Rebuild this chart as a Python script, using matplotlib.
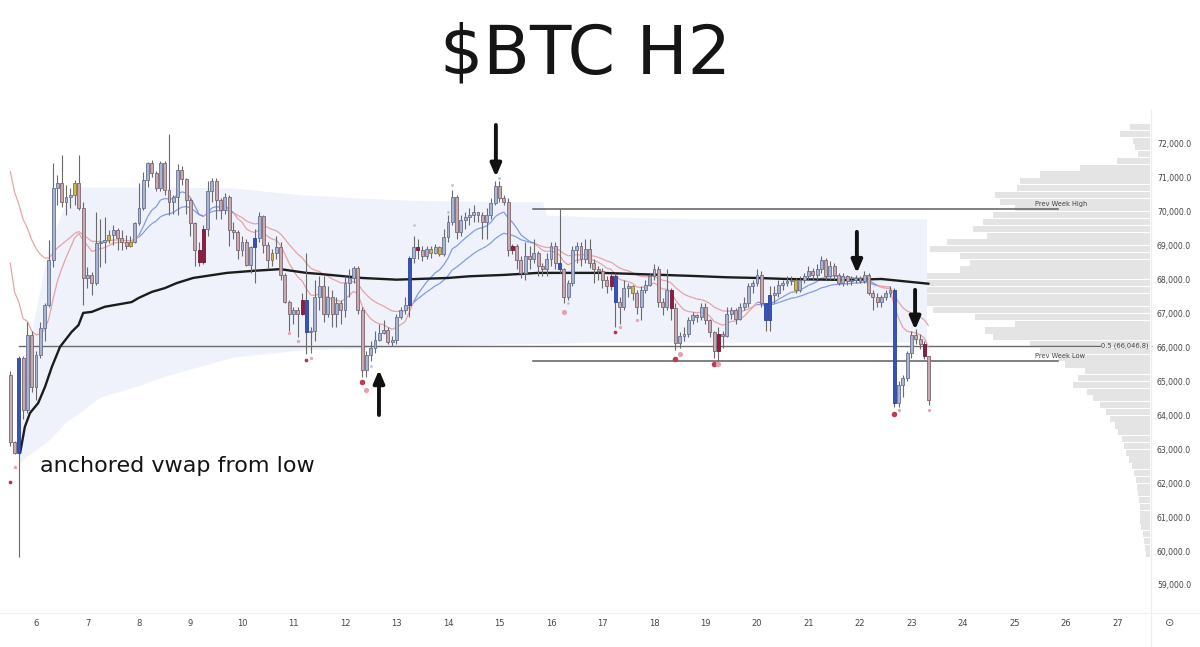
import numpy as np
import matplotlib
matplotlib.use("Agg")
import matplotlib.pyplot as plt
from matplotlib.lines import Line2D
from matplotlib.collections import LineCollection
from matplotlib.ticker import FuncFormatter

# ---- data (prices in thousands of USD) ----
# 2h candles, first one on day 5 at 12:00
first_day = 5.5
bars_per_day = 12
first_open = 65.2

closes = [
    63.2, 62.9, 65.68, 64.16, 66.37, 64.85, 65.78, 66.57, 67.25, 68.58,
    70.69, 70.85, 70.3, 70.45, 70.5, 70.86, 70.1, 68.04, 68.14, 67.89,
    69.07, 69.12, 69.17, 69.32, 69.47, 69.22, 69.12, 68.98, 69.1, 69.66,
    70.1, 70.94, 71.43, 71.13, 70.7, 71.43, 70.64, 70.3, 70.45, 71.23,
    70.98, 70.35, 69.66, 68.87, 68.53, 69.5, 70.6, 70.9, 70.35, 70.05,
    70.45, 69.47, 69.4, 68.87, 69.12, 68.43, 68.97, 69.24, 69.88, 69.02,
    68.58, 68.78, 68.97, 68.14, 67.35, 67.0, 67.1, 67.0, 67.4, 66.45,
    66.5, 67.5, 67.8, 67.0, 67.5, 67.0, 67.3, 67.1, 67.9, 68.05,
    68.35, 67.1, 65.34, 65.78, 65.98, 66.22, 66.42, 66.52, 66.17, 66.22,
    66.91, 67.11, 67.25, 68.63, 68.97, 68.87, 68.7, 68.9, 68.8, 68.95,
    68.75, 69.27, 69.71, 70.45, 69.41, 69.76, 69.86, 69.9, 70.0, 69.9,
    69.7, 69.9, 70.25, 70.76, 70.4, 70.3, 68.87, 69.0, 68.58, 68.2,
    68.7, 68.6, 68.8, 68.4, 68.3, 68.6, 69.0, 68.5, 68.3, 67.5,
    67.89, 68.87, 69.0, 68.6, 68.9, 68.5, 68.3, 68.25, 68.0, 67.8,
    68.1, 67.35, 67.2, 67.75, 67.8, 67.6, 67.2, 67.7, 67.85, 68.1,
    68.3, 67.35, 67.2, 67.7, 67.15, 66.12, 66.35, 66.4, 66.8, 66.95,
    66.9, 67.2, 66.8, 66.45, 65.9, 66.4, 66.35, 67.0, 67.1, 66.85,
    67.2, 67.3, 67.8, 67.9, 68.15, 67.3, 66.8, 67.55, 67.6, 67.85,
    67.9, 67.95, 68.0, 67.7, 68.0, 68.1, 68.25, 68.15, 68.3, 68.58,
    68.1, 68.4, 68.15, 67.9, 68.1, 67.95, 68.0, 68.05, 67.95, 68.15,
    67.6, 67.5, 67.35, 67.5, 67.6, 67.7, 64.36, 64.9, 65.1, 65.83,
    66.37, 66.25, 66.1, 65.75, 64.45,
]
highs = [
    65.3, 63.25, 65.75, 65.75, 66.76, 66.5, 65.9, 66.76, 67.3, 69.17,
    71.43, 71.1, 71.68, 70.8, 70.7, 70.94, 71.68, 70.3, 68.38, 68.24,
    70.0, 69.8, 69.86, 69.47, 69.61, 69.51, 69.47, 69.32, 69.3, 69.71,
    70.84, 71.18, 71.48, 71.53, 71.2, 71.5, 71.5, 72.3, 70.5, 71.4,
    71.35, 71.0, 70.4, 69.7, 69.1, 69.6, 70.9, 71.0, 71.0, 70.4,
    70.55, 70.5, 69.7, 69.45, 69.3, 69.2, 69.0, 69.5, 70.0, 69.9,
    69.1, 68.9, 69.3, 69.1, 68.2, 67.4, 67.2, 67.2, 67.6, 68.8,
    66.6, 68.0, 68.1, 68.1, 67.8, 67.7, 67.5, 67.4, 68.1, 68.3,
    68.4, 68.4, 67.2, 65.9, 66.2, 66.5, 66.7, 66.8, 66.6, 66.35,
    67.0, 67.2, 67.5, 68.7, 69.3, 69.2, 69.0, 69.0, 69.0, 69.05,
    69.0, 69.5, 69.9, 70.65, 70.5, 69.9, 70.0, 70.1, 70.2, 70.0,
    70.0, 70.1, 70.4, 70.9, 70.9, 70.5, 70.4, 69.05, 69.05, 68.7,
    69.1, 69.0, 69.2, 68.85, 68.5, 68.8, 69.1, 69.1, 70.08, 68.35,
    68.0, 69.0, 69.1, 69.1, 69.2, 69.2, 68.6, 68.4, 68.35, 68.1,
    68.2, 68.2, 67.5, 68.0, 67.9, 67.85, 67.7, 67.8, 68.0, 68.2,
    68.45, 68.4, 67.45, 68.3, 67.75, 67.3, 66.45, 66.6, 66.9, 67.05,
    67.0, 67.3, 67.3, 66.85, 66.5, 66.6, 66.5, 67.2, 67.2, 67.15,
    67.3, 67.5, 67.9, 68.0, 68.3, 68.25, 67.3, 67.8, 67.8, 68.0,
    68.0, 68.1, 68.1, 68.05, 68.1, 68.2, 68.4, 68.35, 68.45, 68.7,
    68.65, 68.55, 68.5, 68.2, 68.2, 68.15, 68.1, 68.15, 68.1, 68.25,
    68.2, 67.7, 67.6, 67.55, 67.7, 67.8, 67.75, 65.0, 65.2, 65.9,
    66.5, 66.55, 66.4, 66.2, 65.75,
]
lows = [
    63.1, 62.85, 59.83, 63.9, 64.06, 64.7, 64.45, 65.68, 66.2, 67.2,
    68.38, 70.2, 70.15, 69.9, 70.1, 70.2, 70.05, 67.25, 67.75, 67.55,
    67.84, 68.38, 68.48, 69.07, 69.02, 68.87, 68.87, 68.9, 68.95, 69.07,
    69.6, 70.05, 70.74, 71.04, 70.6, 70.6, 70.5, 69.9, 69.95, 69.9,
    70.8, 69.95, 69.3, 68.4, 68.4, 68.45, 69.3, 70.3, 69.8, 69.8,
    69.95, 69.0, 69.2, 68.6, 68.7, 68.4, 68.2, 67.9, 69.1, 68.8,
    68.3, 68.4, 68.6, 68.0, 67.3, 66.5, 66.7, 66.3, 66.95, 65.8,
    65.85, 66.2, 67.1, 66.75, 66.9, 66.6, 66.6, 66.7, 66.9, 67.5,
    67.9, 67.0, 65.14, 65.14, 65.6, 65.85, 66.2, 66.4, 66.1, 66.03,
    66.1, 66.85, 67.0, 66.9, 68.5, 68.6, 68.55, 68.6, 68.65, 68.75,
    68.7, 68.7, 69.1, 69.6, 69.2, 69.3, 69.5, 69.6, 69.7, 69.7,
    69.2, 69.2, 69.8, 70.2, 70.3, 70.2, 68.7, 68.75, 68.3, 68.05,
    68.0, 68.3, 68.5, 68.1, 68.1, 68.1, 68.4, 68.3, 68.2, 67.3,
    67.4, 67.8, 68.5, 68.4, 68.5, 68.35, 67.9, 68.0, 67.75, 67.6,
    67.7, 66.6, 66.7, 67.1, 67.5, 67.4, 67.0, 66.8, 67.6, 67.8,
    68.0, 67.2, 66.95, 67.1, 66.8, 65.93, 66.0, 66.2, 66.3, 66.7,
    66.75, 66.8, 66.7, 66.3, 65.7, 65.55, 66.0, 66.3, 66.85, 66.7,
    66.8, 67.1, 67.2, 67.6, 67.8, 67.2, 66.5, 66.5, 67.3, 67.5,
    67.7, 67.8, 67.85, 67.6, 67.65, 67.9, 68.0, 68.0, 68.0, 68.2,
    68.0, 68.0, 68.0, 67.85, 67.8, 67.85, 67.85, 67.9, 67.9, 67.9,
    67.55, 67.1, 67.2, 67.2, 67.4, 67.5, 64.26, 64.26, 64.55, 65.0,
    65.7, 66.1, 65.95, 65.65, 64.3,
]

# candles painted with a highlight colour: b = blue, r = dark red, y = yellow
highlight = {2: 'b', 15: 'y', 23: 'y', 28: 'y', 44: 'r', 45: 'r', 57: 'b',
             61: 'y', 68: 'r', 69: 'b', 93: 'b', 95: 'r', 98: 'y', 100: 'y',
             117: 'r', 128: 'b', 140: 'r', 141: 'b', 145: 'y', 154: 'r',
             165: 'r', 176: 'b', 177: 'b', 183: 'y', 206: 'b', 213: 'r'}

# anchored vwap from the low (candle position, price)
vwap_idx = [2.3, 3.4, 4.6, 6.5, 8.1, 9.7, 11.6, 14.3, 15.9, 17, 19, 22, 28.3,
            29.9, 33, 36, 38.8, 42.6, 50.5, 56.6, 62.9, 69, 72, 82, 90, 102,
            107, 115, 123, 138, 145, 159, 167, 174, 181, 195, 203, 214]
vwap_val = [62.89, 63.66, 64.07, 64.36, 64.84, 65.43, 66.02, 66.46, 66.66,
            67.02, 67.05, 67.2, 67.34, 67.46, 67.64, 67.75, 67.9, 68.05, 68.2,
            68.26, 68.31, 68.2, 68.17, 68.05, 68.0, 68.05, 68.1, 68.14, 68.2,
            68.2, 68.17, 68.11, 68.07, 68.05, 68.02, 67.99, 68.02, 67.88]

# shaded band around the vwap
band_idx = [2, 5, 9, 13, 16, 21, 29, 37, 52, 68, 91, 114, 124, 125, 137,
            160, 190, 213.5]
band_hi = [63.2, 66.5, 69.0, 70.3, 70.73, 70.73, 70.73, 70.73, 70.7, 70.5,
           70.35, 70.3, 70.3, 69.9, 69.85, 69.8, 69.8, 69.8]
band_lo = [62.6, 62.9, 63.27, 63.8, 64.07, 64.54, 64.84, 65.19, 65.72, 65.93,
           66.02, 66.1, 66.12, 66.12, 66.16, 66.16, 66.16, 66.16]

# moving average ribbon, start values read at the left edge
ema_fast_len, ema_slow_len = 12, 26
ema_fast_start, ema_slow_start = 68.5, 71.2

# swing dots under lows / over highs (candle, price, kind)
dot_idx = [0, 1, 65, 67, 69, 70, 82, 83, 84, 94, 102, 103, 114, 129, 130,
           141, 142, 146, 155, 156, 164, 165, 206, 207, 214]
dot_val = [62.05, 62.48, 66.42, 66.2, 65.62, 65.7, 64.98, 64.75, 65.45, 69.6,
           70.0, 70.8, 71.0, 67.05, 67.3, 66.45, 66.6, 66.8, 65.65, 65.8,
           65.52, 65.5, 64.05, 64.15, 64.15]
dot_kind = ['r', 'p', 'p', 'p', 'r', 'p', 'R', 'P', 'g', 'g', 'g', 'g', 'g',
            'P', 'g', 'r', 'p', 'p', 'R', 'P', 'R', 'P', 'R', 'p', 'p']

# volume profile, 200$ rows from 59.9k upward
vp_first_row = 59.9
vp_row_step = 0.2
vp_vol = [4, 5, 6, 7, 9, 10, 10, 10, 11, 12, 13, 14, 16, 18, 21, 24, 26, 28,
          32, 35, 40, 44, 50, 57, 63, 77, 72, 65, 85, 92, 110, 120, 157, 165,
          135, 175, 217, 224, 225, 225, 225, 223, 190, 180, 190, 220, 203,
          163, 177, 167, 157, 135, 150, 155, 133, 130, 110, 70, 33, 12, 15,
          17, 30, 20]

# drawn levels
fib_half = 66046.8
prev_week_high = 70080
prev_week_low = 65600
week_line_start, week_line_end = 15.65, 25.84

# hand drawn arrows (day, price from, price to)
arrows = [(14.93, 72.56, 71.03), (12.66, 64.01, 65.34),
          (21.94, 69.41, 68.19), (23.07, 67.70, 66.52)]

day_ticks = list(range(6, 28))
price_ticks = list(range(59000, 73000, 1000))


def ema(values, length, start):
    # the line starts at the value seen at the left edge of the chart
    a = 2.0 / (length + 1)
    out, prev = [start], start
    for v in values[1:]:
        prev = prev + a * (v - prev)
        out.append(prev)
    return np.array(out)


c = np.array(closes) * 1000
h = np.array(highs) * 1000
lo = np.array(lows) * 1000
o = np.concatenate([[first_open * 1000], c[:-1]])
n = len(c)
t = first_day + np.arange(n) / bars_per_day


def idx_to_day(i):
    return first_day + np.asarray(i, dtype=float) / bars_per_day


fig = plt.figure(figsize=(12, 6.47), dpi=100)
ax = fig.add_axes([0, 0.0541, 0.9583, 0.7759])
ax_vp = ax.twiny()
ax_vp.set_zorder(ax.get_zorder() - 1)
ax.patch.set_visible(False)

# volume profile on the right edge
vp_levels = (vp_first_row + vp_row_step * np.arange(len(vp_vol))) * 1000
ax_vp.barh(vp_levels, vp_vol, height=vp_row_step * 1000 * 0.9, left=0,
           color='#e4e4e4', edgecolor='none')
ax_vp.set_xlim(max(vp_vol) / 0.196, 0)
ax_vp.set_xticks([])
for s in ax_vp.spines.values():
    s.set_visible(False)

# vwap band + anchored vwap
ax.fill_between(idx_to_day(band_idx), np.array(band_lo) * 1000,
                np.array(band_hi) * 1000, color='#eff2fb', lw=0, zorder=1)
ax.plot(idx_to_day(vwap_idx), np.array(vwap_val) * 1000, color='#1c1c1c',
        lw=1.7, zorder=4, solid_capstyle='round')

# ema ribbon, blue when fast is above slow
fast = ema(c, ema_fast_len, ema_fast_start * 1000)
slow = ema(c, ema_slow_len, ema_slow_start * 1000)
seg_col = np.where(fast[:-1] > slow[:-1], '#7492e2', '#e59a9c')
for line in (fast, slow):
    pts = np.column_stack([t, line]).reshape(-1, 1, 2)
    segs = np.concatenate([pts[:-1], pts[1:]], axis=1)
    ax.add_collection(LineCollection(segs, colors=seg_col, linewidths=0.9,
                                     alpha=0.9, zorder=3))

# horizontal levels
ax.plot([idx_to_day(2), 26.66], [fib_half, fib_half], color='#6a6a6a',
        lw=1.0, zorder=2)
ax.text(26.68, fib_half, '0.5 (66,046.8) -', fontsize=4.8, color='#444',
        va='center', ha='left')
for lvl, name in ((prev_week_high, 'Prev Week High'),
                  (prev_week_low, 'Prev Week Low')):
    ax.plot([week_line_start, week_line_end], [lvl, lvl], color='#5e5e5e',
            lw=1.1, zorder=2)
    ax.annotate(name, xy=(25.4, lvl), xytext=(0, 1.5),
                textcoords='offset points', fontsize=4.8, color='#444',
                va='bottom', ha='left')

# candles
fills = {'u': '#aab3cf', 'd': '#c7a9b0', 'b': '#3553b8', 'r': '#8e1f42',
         'y': '#cdb45c'}
edges = {'u': '#687190', 'd': '#7c6670', 'b': '#2a4199', 'r': '#6e1633',
         'y': '#8a7634'}
kinds = [highlight.get(i, 'u' if c[i] >= o[i] else 'd') for i in range(n)]
ax.vlines(t, lo, h, color='#6a6a6a', lw=0.8, zorder=5)
body_lo = np.minimum(o, c)
body_h = np.maximum(np.abs(c - o), 25)
ax.bar(t, body_h, width=0.68 / bars_per_day, bottom=body_lo,
       color=[fills[k] for k in kinds], edgecolor=[edges[k] for k in kinds],
       linewidth=0.6, zorder=6)

# swing dots
dot_style = {'R': ('#c23a52', 16), 'r': ('#b5304a', 7),
             'P': ('#e3a3ad', 14), 'p': ('#e3a8b0', 6), 'g': ('#bcc3da', 4)}
for i, v, k in zip(dot_idx, dot_val, dot_kind):
    col, size = dot_style[k]
    ax.scatter(idx_to_day(i), v * 1000, s=size, color=col, lw=0, zorder=7)

# hand drawn arrows
for day, p_from, p_to in arrows:
    ax.annotate('', xy=(day, p_to * 1000), xytext=(day, p_from * 1000),
                arrowprops=dict(arrowstyle='-|>,head_length=0.75,head_width=0.32',
                                color='#111111', lw=2.8, shrinkA=0, shrinkB=0),
                zorder=8)

ax.set_xlim(5.301, 27.631)
ax.set_ylim(58203, 73002)
ax.set_xticks(day_ticks)
ax.set_xticklabels([str(d) for d in day_ticks])
ax.set_yticks(price_ticks)
ax.yaxis.set_major_formatter(FuncFormatter(lambda v, _: f"{v:,.1f}"))
ax.yaxis.tick_right()
ax.tick_params(axis='y', length=0, pad=5, labelsize=5.6, labelcolor='#444')
ax.tick_params(axis='x', length=0, pad=5, labelsize=6, labelcolor='#444')
for s in ax.spines.values():
    s.set_visible(False)

# pane separators and settings icon
fig.add_artist(Line2D([1151 / 1200] * 2, [0, 1 - 110 / 647], color='#ececec',
                      lw=0.8, transform=fig.transFigure))
fig.add_artist(Line2D([0, 1], [1 - 613 / 647] * 2, color='#f0f0f0', lw=0.8,
                      transform=fig.transFigure))
fig.text(1170 / 1200, 1 - 623 / 647, '⊙', fontsize=8, color='#555',
         ha='center', va='center')

fig.text(0.4875, 0.915, r'\$BTC H2', fontsize=49, color='#151515',
         ha='center', va='center')
fig.text(0.0333, 0.2705, 'anchored vwap from low', fontsize=16,
         color='#151515', ha='left', va='baseline')

fig.savefig('out.png', dpi=100, facecolor='white')
